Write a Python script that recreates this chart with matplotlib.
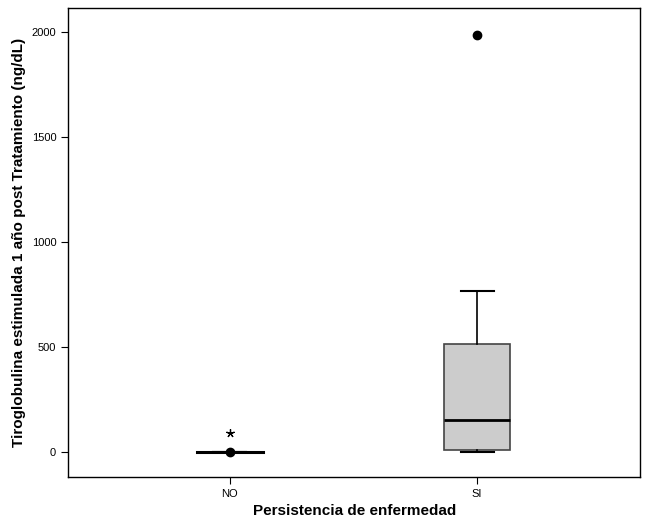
import matplotlib
matplotlib.use("Agg")
import matplotlib.pyplot as plt

plt.rcParams['font.family'] = ['Liberation Sans', 'DejaVu Sans']

categories = ['NO', 'SI']
q1 = [0, 10]
medians = [0, 152]
q3 = [0, 515]
whis_lo = [0, 0]
whis_hi = [0, 767]
outliers_circle = [[0], [1985]]
outliers_star = [[90], []]

stats = []
for i, c in enumerate(categories):
    stats.append(dict(label=c, q1=q1[i], med=medians[i], q3=q3[i],
                      whislo=whis_lo[i], whishi=whis_hi[i], fliers=[]))

fig = plt.figure(figsize=(6.48, 5.27), dpi=100)
ax = fig.add_axes([0.105, 0.095, 0.883, 0.89])

pos = [1, 2]
bw = 0.27
ax.bxp(stats, positions=pos, widths=bw, patch_artist=True, showfliers=False,
       boxprops=dict(facecolor='#cccccc', edgecolor='#444444', linewidth=1.2),
       medianprops=dict(color='black', linewidth=2),
       whiskerprops=dict(color='black', linewidth=1.2),
       capprops=dict(color='black', linewidth=1.5), capwidths=0.134)

# NO group collapses to a single line at 0
ax.plot([pos[0] - bw / 2, pos[0] + bw / 2], [0, 0], color='black', lw=2.2, zorder=3)

for p, vals in zip(pos, outliers_circle):
    ax.plot([p] * len(vals), vals, 'o', color='black', ms=6, zorder=4)
for p, vals in zip(pos, outliers_star):
    ax.plot([p] * len(vals), vals, marker=(5, 2, 0), color='black', ms=6, lw=0,
            mew=0.9, zorder=4)

ax.set_xlim(0.345, 2.66)
ax.set_ylim(-119, 2114)
ax.set_yticks([0, 500, 1000, 1500, 2000])
ax.set_xticks(pos)
ax.set_xticklabels(categories)
ax.tick_params(direction='out', length=5, labelsize=8, color='black')
for s in ax.spines.values():
    s.set_linewidth(1)

ax.set_xlabel('Persistencia de enfermedad', fontsize=11, fontweight='bold')
ax.set_ylabel('Tiroglobulina estimulada 1 año post Tratamiento (ng/dL)',
              fontsize=11, fontweight='bold')

fig.savefig('out.png', dpi=100)
